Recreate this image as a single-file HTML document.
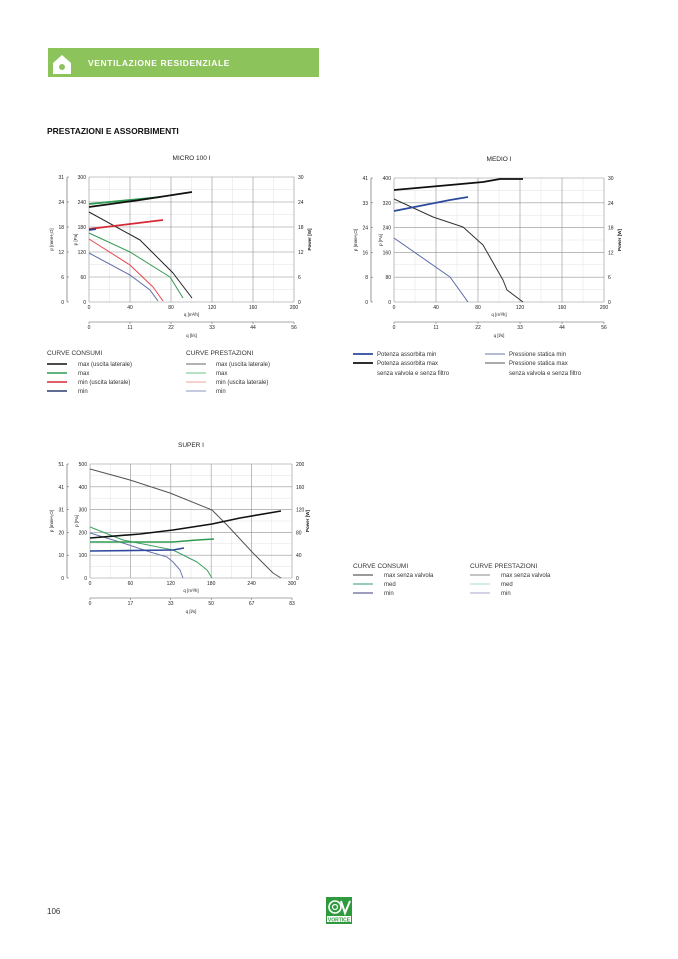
<!DOCTYPE html>
<html><head><meta charset="utf-8"><style>
html,body{margin:0;padding:0;background:#fff;}
body{width:678px;height:959px;position:relative;overflow:hidden;font-family:"Liberation Sans",sans-serif;}
svg{position:absolute;left:0;top:0;}
</style></head><body>
<svg id="s" width="678" height="959" viewBox="0 0 678 959" font-family="Liberation Sans, sans-serif">
<rect x="48" y="48" width="271" height="29" fill="#8dc35b"/>
<path d="M53 63 L62 55 L71 63 L71 74 L53 74 Z" fill="#fff"/>
<circle cx="62" cy="67" r="3" fill="#8dc35b"/>
<text x="88" y="66" font-size="8.5" font-weight="bold" fill="#fff" letter-spacing="0.6">VENTILAZIONE RESIDENZIALE</text>
<text x="47" y="134" font-size="8.5" font-weight="bold" fill="#111">PRESTAZIONI E ASSORBIMENTI</text>
<text x="47" y="914" font-size="8" fill="#333">106</text>
<rect x="326" y="897" width="26" height="27" fill="#2e9a3c"/>
<circle cx="335" cy="907" r="6" fill="none" stroke="#fff" stroke-width="1.6"/>
<circle cx="335" cy="907" r="2.5" fill="none" stroke="#fff" stroke-width="1.2"/>
<path d="M341 901 L345 913 L350 901" fill="none" stroke="#fff" stroke-width="2"/>
<rect x="327" y="916" width="24" height="6" fill="#fff"/>
<text x="339" y="921.5" font-size="5" fill="#2e9a3c" text-anchor="middle" font-weight="bold">VORTICE</text>
<g id="g"></g>
</svg>
<script>
var g=document.getElementById('g');var h='';
function T(x,y,t,o){o=o||{};h+='<text x="'+x+'" y="'+y+'" font-size="'+(o.s||5)+'" fill="'+(o.c||'#222')+'" text-anchor="'+(o.a||'middle')+'"'+(o.r?' transform="rotate(-90 '+x+' '+y+')"':'')+(o.w?' font-weight="bold"':'')+'>'+t+'</text>';}
function L(x1,y1,x2,y2,c,w){h+='<line x1="'+x1+'" y1="'+y1+'" x2="'+x2+'" y2="'+y2+'" stroke="'+c+'" stroke-width="'+w+'"/>';}
function P(pts,c,w){h+='<polyline points="'+pts+'" fill="none" stroke="'+c+'" stroke-width="'+w+'" stroke-linejoin="round"/>';}
function chart(o){
 var x0=o.x0,x1=o.x1,y0=o.y0,y1=o.y1,n=o.xl.length-1,m=o.yl.length-1;
 T((x0+x1)/2,y0-17,o.title,{s:6.5});
 for(var i=0;i<=n*2;i++){var x=x0+(x1-x0)*i/(n*2);L(x,y0,x,y1,'#e2e2e2',0.5);}
 for(var j=0;j<=m*2;j++){var y=y0+(y1-y0)*j/(m*2);L(x0,y,x1,y,'#e2e2e2',0.5);}
 for(var i=0;i<=n;i++){var x=x0+(x1-x0)*i/n;L(x,y0,x,y1,'#999',0.6);T(x,y1+7,o.xl[i]);}
 for(var j=0;j<=m;j++){var y=y1-(y1-y0)*j/m;L(x0,y,x1,y,'#999',0.6);T(x0-3,y+2,o.yl[j],{a:'end'});T(x1+4,y+2,o.yr[j],{a:'start'});T(o.ox-3,y+2,o.yo[j],{a:'end'});L(o.ox,y,o.ox+2,y,'#555',0.5);}
 L(o.ox,y0,o.ox,y1,'#555',0.6);
 T((x0+x1)/2,y1+14,'q [m³/h]',{s:4.5});
 var ly=y1+20;L(x0,ly,x1,ly,'#555',0.6);
 for(var i=0;i<=5;i++){var x=x0+(x1-x0)*i/5;L(x,ly,x,ly+2,'#555',0.5);T(x,ly+7,o.ql[i]);}
 T((x0+x1)/2,ly+15,'q [l/s]',{s:4.5});
 T(o.ox-14,(y0+y1)/2,'p [mmH₂O]',{s:4.5,r:1});T(x0-12,(y0+y1)/2,'p [Pa]',{s:4.5,r:1});
 T(x1+17,(y0+y1)/2,'Power [W]',{s:4.5,r:1,w:1});
}
var ql=['0','11','22','33','44','56'];
chart({title:'MICRO 100 I',x0:89,x1:294,y0:177,y1:302,ox:67,xl:['0','40','80','120','160','200'],yl:['0','60','120','180','240','300'],yr:['0','6','12','18','24','30'],yo:['0','6','12','18','24','31'],ql:ql});
P('89,253 130,275 150,290 158,301','#5a6aa6',1);
P('89,239 130,265 153,287 163,301','#e2484e',1);
P('89,233 130,252 170,277 183,298','#2e9a50',1);
P('89,212 140,240 173,273 192,298','#222',1);
P('89,204 130,200 160,197','#2e9a50',1.8);
P('89,229 163,220','#d52a35',1.8);
P('89,230 96,229','#2d3b8e',1.8);
P('89,207 140,200 192,192','#111',1.8);
chart({title:'MEDIO I',x0:394,x1:604,y0:178,y1:302,ox:371,xl:['0','40','80','120','160','200'],yl:['0','80','160','240','320','400'],yr:['0','6','12','18','24','30'],yo:['0','8','16','24','33','41'],ql:ql});
P('394,238 450,277 468,302','#5a6aa6',1);
P('394,199 433,217 463,227 483,245 503,280 507,290 523,302','#333',1);
P('394,211 450,200 468,197','#2d4a9e',1.8);
P('394,190 450,185 483,182 500,179 523,179','#111',1.8);
chart({title:'SUPER I',x0:90,x1:292,y0:464,y1:578,ox:67,xl:['0','60','120','180','240','300'],yl:['0','100','200','300','400','500'],yr:['0','40','80','120','160','200'],yo:['0','10','20','31','41','51'],ql:['0','17','33','50','67','83']});
P('90,469 130,480 170,493 212,510 227,525 253,553 273,573 281,578','#555',1);
P('90,527 123,540 173,550 197,562 207,570 212,578','#3aa060',1);
P('90,533 123,543 150,552 167,557 173,562 180,570 183,578','#6a78b0',1);
P('90,542 173,542 197,540 214,539','#2e9a50',1.6);
P('90,551 173,550 184,548','#2d4a9e',1.6);
P('90,538 140,534 173,530 212,524 240,518 281,511','#111',1.6);
function leg(x,y,items,tw){for(var k=0;k<items.length;k++){var it=items[k];L(x,y+k*9-2,x+20,y+k*9-2,it[1],it[2]);T(x+tw,y+k*9,it[0],{s:6,a:'start',c:'#333'});}}
T(47,355,'CURVE CONSUMI',{s:6.5,a:'start',c:'#333'});T(186,355,'CURVE PRESTAZIONI',{s:6.5,a:'start',c:'#333'});
leg(47,366,[['max (uscita laterale)','#111',1.6],['max','#2e9a50',1.6],['min (uscita laterale)','#d52a35',1.6],['min','#2d3b6e',1.6]],31);
leg(186,366,[['max (uscita laterale)','#666',1],['max','#6fc28a',1],['min (uscita laterale)','#f0a0a0',1],['min','#8a94c0',1]],30);
leg(353,356,[['Potenza assorbita min','#2d4a9e',1.8],['Potenza assorbita max','#111',1.8]],24);T(377,375,'senza valvola e senza filtro',{s:6,a:'start',c:'#333'});
leg(485,356,[['Pressione statica min','#6a78b0',1],['Pressione statica max','#555',1]],24);T(509,375,'senza valvola e senza filtro',{s:6,a:'start',c:'#333'});
T(353,568,'CURVE CONSUMI',{s:6.5,a:'start',c:'#333'});T(470,568,'CURVE PRESTAZIONI',{s:6.5,a:'start',c:'#333'});
leg(353,577,[['max senza valvola','#333',1],['med','#2e9a70',1],['min','#3b3b7e',1]],31);
leg(470,577,[['max senza valvola','#888',1],['med','#a8dcc0',1],['min','#aaaacc',1]],31);
g.innerHTML=h;
</script>
</body></html>
